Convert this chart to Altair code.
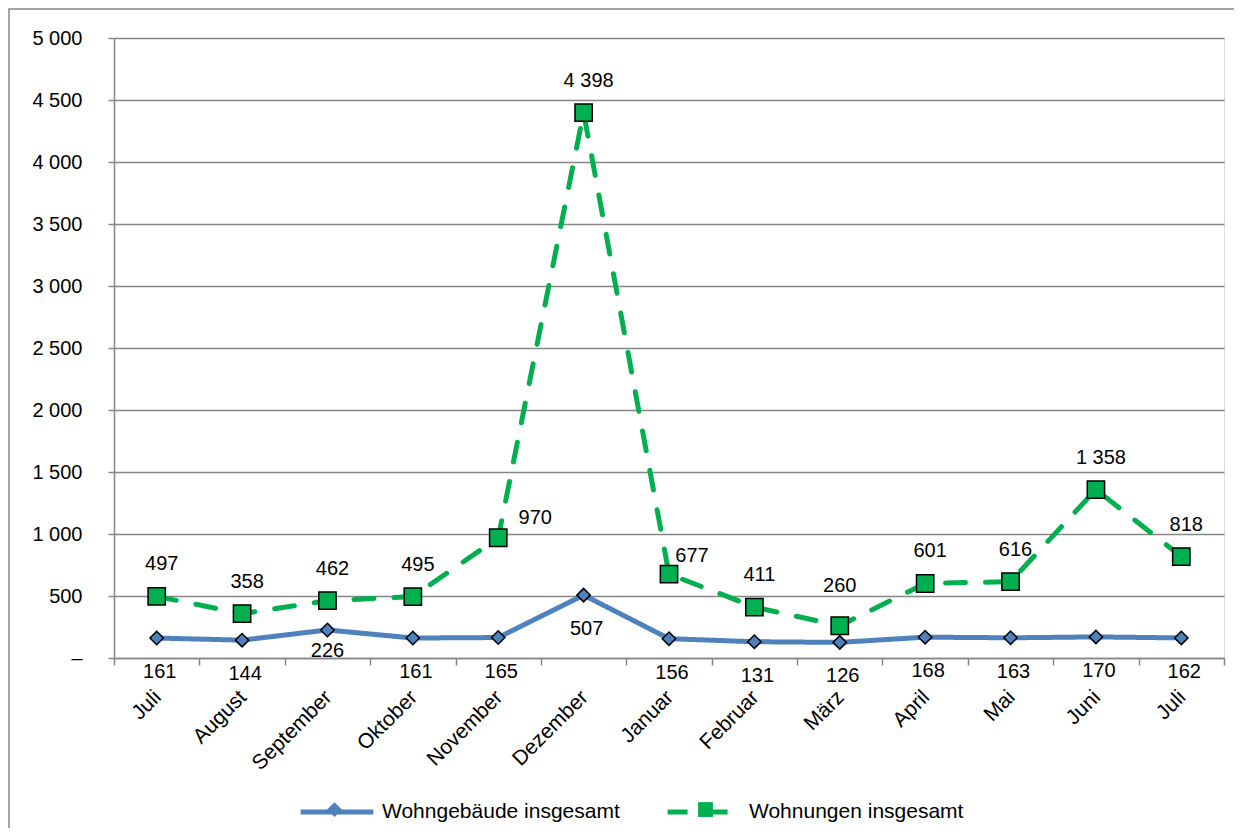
import altair as alt
import pandas as pd

months = ["Juli", "August", "September", "Oktober", "November", "Dezember",
          "Januar", "Februar", "März", "April", "Mai", "Juni", "Juli"]
wohngebaeude = [161, 144, 226, 161, 165, 507, 156, 131, 126, 168, 163, 170, 162]
wohnungen = [497, 358, 462, 495, 970, 4398, 677, 411, 260, 601, 616, 1358, 818]
series_names = ["Wohngebäude insgesamt", "Wohnungen insgesamt"]
y_ticks = list(range(0, 5001, 500))

rows = []
for i in range(len(months)):
    rows.append({"idx": i, "serie": series_names[0], "v": wohngebaeude[i]})
    rows.append({"idx": i, "serie": series_names[1], "v": wohnungen[i]})
df = pd.DataFrame(rows)

FONT = "Liberation Sans"
BLUE = "#4F81BD"
GREEN = "#00B050"
GRID = "#868686"
W, H = 1110, 620
FS = 20

month_expr = "[" + ",".join("'%s'" % m for m in months) + "][datum.value]"

x_enc = alt.X("idx:O", bandPosition=0.5,
              scale=alt.Scale(type="band", paddingInner=0, paddingOuter=0),
              axis=alt.Axis(title=None, labelExpr=month_expr, labelAngle=315,
                            labelFontSize=21, labelFont=FONT, labelColor="black",
                            tickBand="extent", tickSize=7, tickColor=GRID, tickWidth=1.5,
                            domainColor=GRID, domainWidth=1.5, labelPadding=21,
                            labelOffset=-7, grid=False))
y_enc = alt.Y("v:Q", scale=alt.Scale(domain=[0, 5000], nice=False),
              axis=alt.Axis(title=None, values=y_ticks,
                            labelExpr="datum.value == 0 ? '–' : replace(format(datum.value, ','), ',', ' ')",
                            labelFontSize=FS, labelFont=FONT, labelColor="black",
                            tickSize=6, tickColor=GRID, tickWidth=1.5,
                            domainColor=GRID, domainWidth=1.5, labelPadding=26,
                            grid=True, gridColor=GRID, gridWidth=1.5))

LX, LY, LP = 184, 735, 37
legend_lines = alt.Legend(title=None, orient="none", direction="horizontal",
                          legendX=LX, legendY=LY, columns=2, columnPadding=LP,
                          symbolType="stroke", symbolSize=5300, symbolStrokeWidth=5,
                          labelFontSize=21, labelFont=FONT, labelColor="black",
                          labelOffset=6, labelLimit=500)
# markers drawn on top of the legend lines (no labels)
legend_marks = alt.Legend(title=None, orient="none", direction="horizontal",
                          legendX=LX + 28, legendY=LY + 28, columns=2, columnPadding=350,
                          symbolSize=220, symbolStrokeColor="black", symbolStrokeWidth=1.5,
                          labelExpr="''", labelFontSize=1, labelOffset=0)

base = alt.Chart(df)

lines = base.mark_line(strokeWidth=5, strokeCap="round").encode(
    x=x_enc, y=y_enc,
    color=alt.Color("serie:N", scale=alt.Scale(domain=series_names, range=[BLUE, GREEN]),
                    legend=legend_lines),
    strokeDash=alt.StrokeDash("serie:N", scale=alt.Scale(domain=series_names, range=[[1, 0], [20, 20]]),
                              legend=legend_lines),
    order="idx:O",
)

shape_enc = alt.Shape("serie:N", scale=alt.Scale(range=["diamond", "square"]), legend=legend_marks)
fill_enc = alt.Fill("serie:N", scale=alt.Scale(range=[BLUE, GREEN]), legend=legend_marks)

pts_g = base.transform_filter(alt.datum.serie == series_names[0]).mark_point(
    size=180, filled=True, stroke="black", strokeWidth=1.5, opacity=1
).encode(x=x_enc, y=y_enc, shape=shape_enc, fill=fill_enc)

pts_w = base.transform_filter(alt.datum.serie == series_names[1]).mark_point(
    size=300, filled=True, stroke="black", strokeWidth=1.5, opacity=1
).encode(x=x_enc, y=y_enc, shape=shape_enc, fill=fill_enc)

# label placement (style): default offsets and per-index overrides
label_style = {
    series_names[0]: {"default": (3, 34), "over": {2: (0, 21)}},
    series_names[1]: {"default": (5, -32), "over": {4: (37, -20), 6: (23, -18), 8: (0, -40)}},
}

label_layers = []
for s, cfg in label_style.items():
    over = cfg["over"]
    dx, dy = cfg["default"]
    cond = alt.datum.serie == s
    excl = " && ".join("datum.idx != %d" % k for k in over) if over else "true"
    label_layers.append(
        base.transform_filter(cond).transform_filter(excl)
        .transform_calculate(t="replace(format(datum.v, ','), ',', ' ')")
        .mark_text(dx=dx, dy=dy, fontSize=FS, font=FONT, color="black", baseline="middle")
        .encode(x=x_enc, y=y_enc, text="t:N")
    )
    for k, (odx, ody) in over.items():
        label_layers.append(
            base.transform_filter(cond).transform_filter("datum.idx == %d" % k)
            .transform_calculate(t="replace(format(datum.v, ','), ',', ' ')")
            .mark_text(dx=odx, dy=ody, fontSize=FS, font=FONT, color="black", baseline="middle")
            .encode(x=x_enc, y=y_enc, text="t:N")
        )

frame = alt.Chart(alt.Data(values=[{"a": 1}])).mark_rect(
    fillOpacity=0, stroke=GRID, strokeWidth=1.5
).encode(x=alt.value(-105), x2=alt.value(3000), y=alt.value(-29), y2=alt.value(3000))

chart = alt.layer(frame, lines, pts_g, pts_w, *label_layers).properties(
    width=W, height=H,
    autosize=alt.AutoSizeParams(type="none"),
    padding={"left": 106, "top": 30, "right": 10, "bottom": 170},
).configure_view(stroke=None).configure(background="white")

chart.save("out.html", embed_options={"renderer": "svg", "actions": False})
